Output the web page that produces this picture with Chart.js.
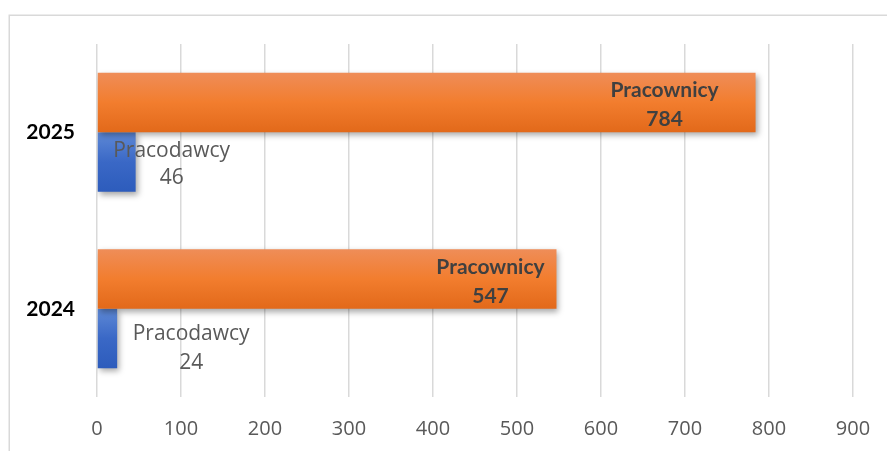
<!DOCTYPE html>
<html>
<head>
<meta charset="utf-8">
<script src="https://cdn.jsdelivr.net/npm/chart.js@4.4.1/dist/chart.umd.min.js"></script>
<style>
  html, body { margin: 0; padding: 0; background: #ffffff; }
  #wrap { position: relative; width: 887px; height: 451px; }
</style>
</head>
<body>
<div id="wrap"><canvas id="c" width="887" height="451"></canvas></div>
<script>
// ---- data ----
const categories = ['2025', '2024'];
const seriesNames = ['Pracownicy', 'Pracodawcy'];
const pracownicy = [784, 547];
const pracodawcy = [46, 24];
const xTicks = [0, 100, 200, 300, 400, 500, 600, 700, 800, 900];

// ---- styles ----
const CAT_PCT = 0.674;
const gradStops = [
  ['#EF8D58', '#F27D2E', '#E2691A'],
  ['#5E89D6', '#3A68C6', '#2D5CBC']
];
// label placement (style): dx from bar end to text centre, dy of line centres from bar centre
const labelStyle = [
  { font: 'bold 21px Lato', color: '#404040', dx: [-91, -66], dy1: [-12.5, -12], dy2: [16.5, 17] },
  { font: '21px "Open Sans"', color: '#595959', dx: [36, 74], dy1: [-11, -4], dy2: [16.5, 25] }
];

function barGradient(ctx) {
  const chart = ctx.chart;
  const ds = ctx.datasetIndex;
  const fallback = gradStops[ds][1];
  const y = chart.scales && chart.scales.y;
  if (!y || !chart.chartArea || ctx.dataIndex === undefined) return fallback;
  const center = y.getPixelForValue(ctx.dataIndex);
  const band = (y.height / categories.length) * CAT_PCT / 2;
  const top = ds === 0 ? center - band : center;
  const g = chart.ctx.createLinearGradient(0, top, 0, top + band);
  g.addColorStop(0, gradStops[ds][0]);
  g.addColorStop(0.5, gradStops[ds][1]);
  g.addColorStop(1, gradStops[ds][2]);
  return g;
}

const framePlugin = {
  id: 'frame',
  beforeDraw(chart) {
    const c = chart.ctx;
    c.save();
    c.strokeStyle = '#d9d9d9';
    c.lineWidth = 1.5;
    c.strokeRect(9.25, 15.25, 1000, 1000);
    c.restore();
  }
};

const shadowPlugin = {
  id: 'barShadow',
  beforeDatasetDraw(chart) {
    const c = chart.ctx;
    c.save();
    c.shadowColor = 'rgba(0,0,0,0.35)';
    c.shadowBlur = 6;
    c.shadowOffsetX = 2;
    c.shadowOffsetY = 3;
  },
  afterDatasetDraw(chart) {
    chart.ctx.restore();
  }
};

const labelPlugin = {
  id: 'barLabels',
  afterDatasetsDraw(chart) {
    const c = chart.ctx;
    c.save();
    c.textAlign = 'center';
    c.textBaseline = 'middle';
    chart.data.datasets.forEach((ds, di) => {
      const meta = chart.getDatasetMeta(di);
      const st = labelStyle[di];
      meta.data.forEach((el, i) => {
        const cx = el.x + st.dx[i];
        c.font = st.font;
        c.fillStyle = st.color;
        c.fillText(ds.label, cx, el.y + st.dy1[i]);
        c.fillText(String(ds.data[i]), cx, el.y + st.dy2[i]);
      });
    });
    c.restore();
  }
};

new Chart(document.getElementById('c'), {
  type: 'bar',
  data: {
    labels: categories,
    datasets: [
      { label: seriesNames[0], data: pracownicy, backgroundColor: barGradient, borderWidth: 0 },
      { label: seriesNames[1], data: pracodawcy, backgroundColor: barGradient, borderWidth: 0 }
    ]
  },
  options: {
    indexAxis: 'y',
    responsive: false,
    animation: false,
    devicePixelRatio: 1,
    categoryPercentage: CAT_PCT,
    barPercentage: 1,
    layout: { padding: { top: 44, right: 34, bottom: 0, left: 0 } },
    plugins: { legend: { display: false }, tooltip: { enabled: false }, title: { display: false } },
    scales: {
      x: {
        type: 'linear',
        min: xTicks[0],
        max: xTicks[xTicks.length - 1],
        afterBuildTicks(scale) { scale.ticks = xTicks.map(v => ({ value: v })); },
        afterFit(scale) { scale.height = 54; scale.paddingLeft = 0; scale.paddingRight = 0; },
        grid: { color: '#d9d9d9', lineWidth: 1.5, drawTicks: false },
        border: { display: false },
        ticks: { font: { family: 'Open Sans', size: 20 }, color: '#595959', padding: 20 }
      },
      y: {
        afterFit(scale) { scale.width = 97; scale.paddingTop = 0; scale.paddingBottom = 0; },
        grid: { display: false },
        border: { display: false },
        ticks: { font: { family: 'Lato', size: 21, weight: 'bold' }, color: '#000000', padding: 14 }
      }
    }
  },
  plugins: [framePlugin, shadowPlugin, labelPlugin]
});
</script>
</body>
</html>
